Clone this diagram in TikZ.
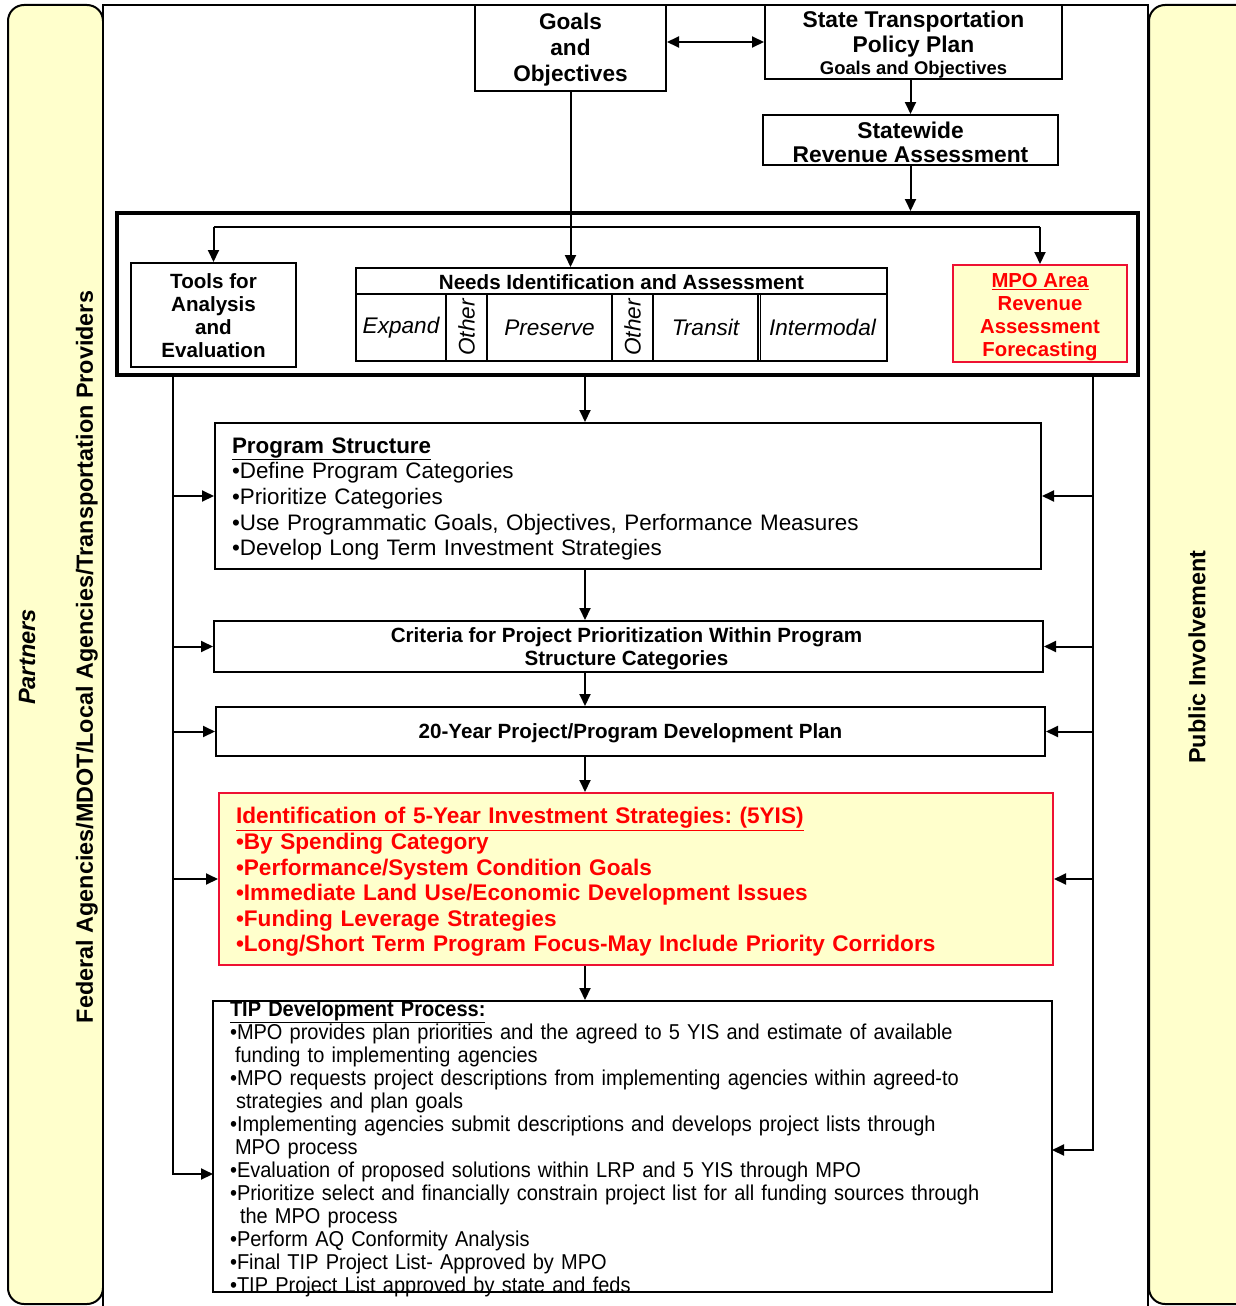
\documentclass[tikz,border=0pt]{standalone}
\usepackage{fontspec}
\setmainfont{Liberation Sans}
\newfontfamily\narrowfont[FakeStretch=0.93]{Liberation Sans}
\usetikzlibrary{arrows.meta}
\definecolor{paleyellow}{HTML}{FFFFCC}
\definecolor{txtred}{HTML}{FF0000}
\definecolor{linered}{HTML}{EE1133}
\frenchspacing
\begin{document}
\begin{tikzpicture}[x=1pt,y=-1pt,
  box/.style={draw=black, line width=2pt, fill=white, inner sep=0pt},
  redbox/.style={draw=linered, line width=2pt, fill=paleyellow, inner sep=0pt},
  txt/.style={inner sep=0pt, align=center, font=\bfseries\fontsize{20.6}{23}\selectfont},
  cell/.style={draw=black, line width=2pt, fill=white, inner sep=0pt, minimum height=67pt,
    font=\itshape\fontsize{22.6}{26}\selectfont},
  arr/.style={line width=2pt, -{Triangle[length=12pt,width=11pt]}},
  darr/.style={line width=2pt, {Triangle[length=12pt,width=11pt]}-{Triangle[length=12pt,width=11pt]}},
  ln/.style={line width=2pt},
  panel/.style={draw=black, line width=2pt, fill=paleyellow, rounded corners=16pt},
  sidetext/.style={rotate=90, font=\bfseries\fontsize{23.4}{26}\selectfont, inner sep=0pt}]

\useasboundingbox (0,0) rectangle (1235,1306);

% side panels and main frame
\draw[panel] (8,5) rectangle (103,1304);
\draw[panel] (1149,5) rectangle (1260,1304);
\draw[line width=2pt, fill=white] (103,5) rectangle (1148,1312);

\node[sidetext, font=\bfseries\itshape\fontsize{23.6}{26}\selectfont] (partners) at (27,657) {Partners};
\node[sidetext] (fed) at (87,657) {Federal Agencies/MDOT/Local Agencies/Transportation Providers};
\node[sidetext] (pub) at (1197,657) {Public Involvement};

% top boxes
\node[box, minimum width=191pt, minimum height=86pt] (goals) at (570.5,48) {};
\node[txt, font=\bfseries\fontsize{22.6}{26}\selectfont] (goalsT) at (570.5,50) {Goals\\and\\Objectives};
\node[box, minimum width=297pt, minimum height=74pt] (stpp) at (913.5,42) {};
\node[txt, font=\bfseries\fontsize{22.8}{25}\selectfont] (stppT) at (913.5,45)
  {State Transportation\\Policy Plan\\[-3pt]{\fontsize{18.4}{20}\selectfont Goals and Objectives}};
\node[box, minimum width=295pt, minimum height=50pt] (sra) at (910.5,140) {};
\node[txt, font=\bfseries\fontsize{22.8}{24}\selectfont] (sraT) at (910.5,142) {Statewide\\Revenue Assessment};

\draw[darr] (stpp.west -| goals.east) -- (stpp.west);
\draw[arr] (stpp.south -| sra.north) -- (sra.north);

% big box
\node[draw=black, line width=4pt, minimum width=1021pt, minimum height=162pt, inner sep=0pt]
  (big) at (627.5,294) {};
\draw[arr] (sra.south) -- (sra.south |- big.north);

\node[box, minimum width=165pt, minimum height=104pt] (tools) at (213.5,315) {};
\node[txt] (toolsT) at (213.5,316) {Tools for\\Analysis\\and\\Evaluation};

\node[box, minimum width=531pt, minimum height=26pt] (needs) at (621.5,281) {};
\node[txt] (needsT) at (621.5,282) {Needs Identification and Assessment};
\node[cell, minimum width=90pt] (expand) at (401,327.5) {Expand};
\node[cell, minimum width=41pt] (oth1) at (466.5,327.5) {};
\node[cell, minimum width=125pt] (pres) at (549.5,327.5) {Preserve};
\node[cell, minimum width=41pt] (oth2) at (632.5,327.5) {};
\node[cell, minimum width=105pt] (trans) at (705.5,327.5) {Transit};
\node[cell, minimum width=129pt] (inter) at (822.5,327.5) {Intermodal};
\node[rotate=90, font=\itshape\fontsize{22.6}{26}\selectfont, inner sep=0pt] (oth1t) at (oth1) {Other};
\node[rotate=90, font=\itshape\fontsize{22.6}{26}\selectfont, inner sep=0pt] (oth2t) at (oth2) {Other};
\draw[line width=1.5pt] ([xshift=3.5pt]inter.north west) -- ([xshift=3.5pt]inter.south west);

\node[redbox, minimum width=174pt, minimum height=97pt] (mpo) at (1040,313.5) {};
\node[txt, text=txtred, font=\bfseries\fontsize{20.3}{23}\selectfont] (mpoT) at (1040,317)
  {\underline{MPO Area}\\Revenue\\Assessment\\Forecasting};

\draw[arr] (goals.south) -- (goals.south |- needs.north);
\coordinate (dist) at (0,227);
\draw[ln] (tools.north |- dist) -- (mpo.north |- dist);
\draw[arr] (tools.north |- dist) -- (tools.north);
\draw[arr] (mpo.north |- dist) -- (mpo.north);

% lower chain
\coordinate (cx) at (585,0);
\node[box, minimum width=826pt, minimum height=146pt] (ps) at (628,496) {};
\node[txt, text width=792pt, align=left, font=\fontsize{22.4}{25.7}\selectfont] (psT) at (628,499)
  {\textbf{\underline{Program Structure}}\\
   •Define Program Categories\\
   •Prioritize Categories\\
   •Use Programmatic Goals, Objectives, Performance Measures\\
   •Develop Long Term Investment Strategies};
\node[box, minimum width=829pt, minimum height=51pt] (crit) at (628.5,646.5) {};
\node[txt] (critT) at (626.5,649) {Criteria for Project Prioritization Within Program\\Structure Categories};
\node[box, minimum width=829pt, minimum height=49pt] (plan) at (630.5,731.5) {};
\node[txt] (planT) at (630.5,733) {20-Year Project/Program Development Plan};
\node[redbox, minimum width=834pt, minimum height=172pt] (yis) at (636,879) {};
\node[txt, text width=800pt, align=left, text=txtred, font=\bfseries\fontsize{22.6}{25.6}\selectfont]
  (yisT) at (636,882)
  {\underline{Identification of 5-Year Investment Strategies: (5YIS)}\\
   •By Spending Category\\
   •Performance/System Condition Goals\\
   •Immediate Land Use/Economic Development Issues\\
   •Funding Leverage Strategies\\
   •Long/Short Term Program Focus-May Include Priority Corridors};
\node[box, minimum width=839pt, minimum height=291pt] (tip) at (632.5,1146.5) {};
\node[txt, text width=805pt, align=left, font=\narrowfont\fontsize{21.5}{23}\selectfont]
  (tipT) at (632.5,1149)
  {\textbf{\underline{TIP Development Process:}}\\
   •MPO provides plan priorities and the agreed to 5 YIS and estimate of available\\
   \hspace*{5pt}funding to implementing agencies\\
   •MPO requests project descriptions from implementing agencies within agreed-to\\
   \hspace*{6pt}strategies and plan goals\\
   •Implementing agencies submit descriptions and develops project lists through\\
   \hspace*{5pt}MPO process\\
   •Evaluation of proposed solutions within LRP and 5 YIS through MPO\\
   •Prioritize select and financially constrain project list for all funding sources through\\
   \hspace*{10pt}the MPO process\\
   •Perform AQ Conformity Analysis\\
   •Final TIP Project List- Approved by MPO\\
   •TIP Project List approved by state and feds};

\draw[arr] (big.south -| cx) -- (ps.north -| cx);
\draw[arr] (ps.south -| cx) -- (crit.north -| cx);
\draw[arr] (crit.south -| cx) -- (plan.north -| cx);
\draw[arr] (plan.south -| cx) -- (yis.north -| cx);
\draw[arr] (yis.south -| cx) -- (tip.north -| cx);

% left feedback line
\coordinate (L) at (173,0);
\coordinate (tipl) at (213,1174);
\draw[arr] (big.south -| L) |- (tipl);
\draw[arr] (L |- ps.west) -- (ps.west);
\draw[arr] (L |- crit.west) -- (crit.west);
\draw[arr] (L |- plan.west) -- (plan.west);
\draw[arr] (L |- yis.west) -- (yis.west);

% right feedback line
\coordinate (R) at (1093,0);
\coordinate (tipr) at (1052,1150);
\draw[arr] (big.south -| R) |- (tipr);
\draw[arr] (R |- ps.east) -- (ps.east);
\draw[arr] (R |- crit.east) -- (crit.east);
\draw[arr] (R |- plan.east) -- (plan.east);
\draw[arr] (R |- yis.east) -- (yis.east);
\end{tikzpicture}
\end{document}
